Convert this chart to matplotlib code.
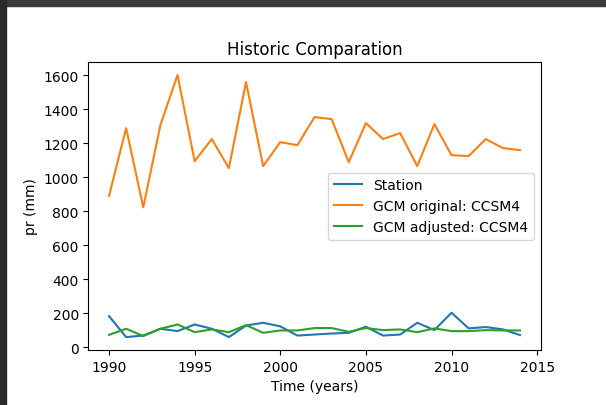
import matplotlib
matplotlib.use("Agg")
import matplotlib.pyplot as plt
from matplotlib.patches import Rectangle

# yearly precipitation values
years = list(range(1990, 2015))
station = [184, 61, 70, 110, 96, 135, 110, 61, 129, 145, 124, 70, 76, 82, 86,
           122, 70, 76, 145, 102, 204, 112, 120, 106, 73]
gcm_original = [890, 1288, 823, 1306, 1600, 1094, 1224, 1053, 1559, 1065, 1206,
                1188, 1353, 1341, 1088, 1318, 1224, 1259, 1065, 1312, 1129,
                1124, 1224, 1171, 1159]
gcm_adjusted = [74, 110, 67, 110, 135, 90, 106, 90, 131, 86, 100, 100, 114,
                114, 92, 114, 102, 106, 90, 112, 96, 96, 102, 100, 100]

fig = plt.figure(figsize=(6.06, 4.06), dpi=100)

# dark notebook frame around the screenshot
fig.patches.append(Rectangle((0, 1 - 7 / 406), 1, 7 / 406, transform=fig.transFigure,
                             color="#3c3c3c", zorder=-1))
fig.patches.append(Rectangle((0, 0), 6 / 606, 1, transform=fig.transFigure,
                             color="#2a2a2a", zorder=-1))

ax = fig.add_axes([0.146, 0.135, 0.746, 0.71])
ax.plot(years, station, label="Station")
ax.plot(years, gcm_original, label="GCM original: CCSM4")
ax.plot(years, gcm_adjusted, label="GCM adjusted: CCSM4")

ax.set_title("Historic Comparation")
ax.set_xlabel("Time (years)")
ax.set_ylabel("pr (mm)")
ax.legend(loc="center right")

fig.savefig("out.png", dpi=100)
